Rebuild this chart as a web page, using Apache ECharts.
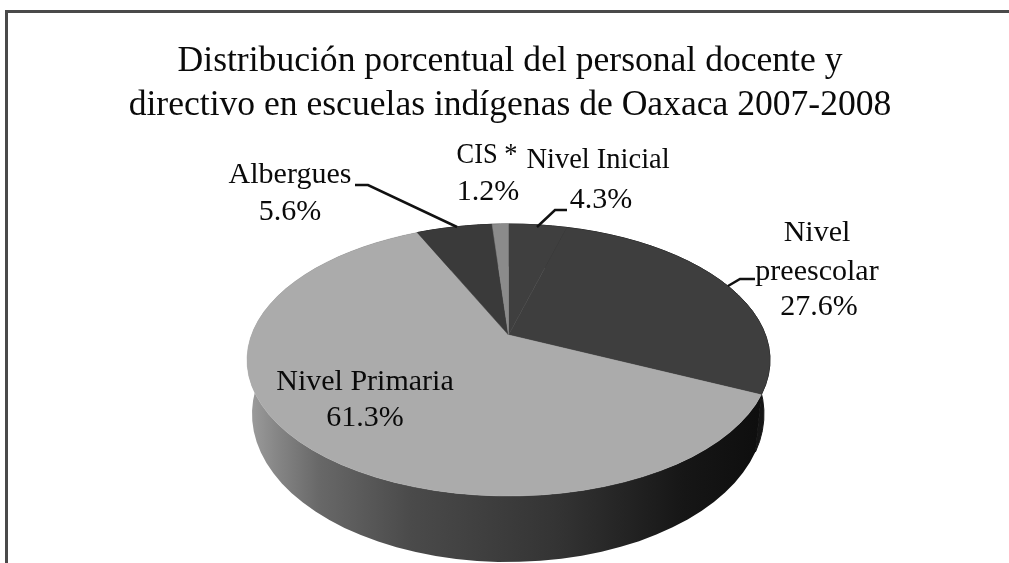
<!DOCTYPE html>
<html>
<head>
<meta charset="utf-8">
<style>html,body{margin:0;padding:0;background:#fff}#c{width:1009px;height:563px}</style>
<script src="https://cdn.jsdelivr.net/npm/echarts@6/dist/echarts.min.js"></script>
</head>
<body>
<div id="c"></div>
<script>
// --- data ---
var categories = ['Nivel Inicial', 'Nivel preescolar', 'Nivel Primaria', 'Albergues', 'CIS *'];
var values = [4.3, 27.6, 61.3, 5.6, 1.2];
var titleLines = ['Distribución porcentual del personal docente y', 'directivo en escuelas indígenas de Oaxaca 2007-2008'];
// --- styling ---
var faceColors = ['#3f3f3f', '#3e3e3e', '#ababab', '#3a3a3a', '#8b8b8b'];
var sideStops = [
  [[0, '#222222'], [1, '#222222']],
  [[0, '#0e0e0e'], [1, '#161616']],
  [[0, '#9e9e9e'], [0.06, '#858585'], [0.14, '#686868'], [0.32, '#4a4a4a'], [0.6, '#343434'], [0.85, '#161616'], [1, '#0e0e0e']],
  [[0, '#222222'], [1, '#222222']],
  [[0, '#333333'], [1, '#333333']]
];
// perspective geometry of the disc
var tilt = 0.184;
var topDisc = {cx: 508.5, cy: 360, rx: 261.5, ry: 136};
var lowDisc = {cx: 508, cy: 414, rx: 256, ry: 148};
var arcSteps = 90;
// label layout
var labelLayout = [
  {x: 598, y: 160, sx: 0.95, lines: ['Nivel Inicial'], pct: {x: 601, y: 200}, line: [[537, 227], [555, 210], [567, 210]]},
  {x: 817, y: 233, sx: 1, lines: ['Nivel', 'preescolar'], pct: {x: 819, y: 307}, line: [[728, 286], [740, 279], [755, 279]]},
  {x: 365, y: 382, sx: 1, lines: ['Nivel Primaria'], pct: {x: 365, y: 418}, line: null},
  {x: 290, y: 175, sx: 1, lines: ['Albergues'], pct: {x: 290, y: 212}, line: [[355, 185], [368, 185], [457, 227]]},
  {x: 487, y: 155, sx: 0.88, lines: ['CIS *'], pct: {x: 488, y: 192}, line: null}
];

var total = values.reduce(function (a, b) { return a + b; }, 0);
var starts = [];
values.reduce(function (acc, v, i) { starts[i] = acc; return acc + v; }, 0);
var rows = values.map(function (v, i) { return [v, starts[i], i]; });

// image of a point on the unit circle under the pie's perspective
function rim(d, frac) {
  var th = frac * 2 * Math.PI, u = Math.sin(th), v = Math.cos(th);
  var w = 1 + tilt * v;
  return [
    d.cx + d.rx * Math.sqrt(1 - tilt * tilt) * u / w,
    d.cy - (d.ry * v + tilt * d.ry) / w
  ];
}
function apex(d) { return [d.cx, d.cy - tilt * d.ry]; }
function arc(d, a, b) {
  var n = Math.max(2, Math.ceil((b - a) * arcSteps)), pts = [];
  for (var k = 0; k <= n; k++) pts.push(rim(d, a + (b - a) * k / n));
  return pts;
}

function renderSide(params, api) {
  var v = api.value(0), s = api.value(1), i = api.value(2);
  var a = s / total, b = (s + v) / total;
  var pts = arc(topDisc, a, b).concat(arc(lowDisc, a, b).reverse());
  var stops = sideStops[i].map(function (p) { return {offset: p[0], color: p[1]}; });
  var fill = new echarts.graphic.LinearGradient(0, 0, 1, 0, stops);
  return {type: 'polygon', shape: {points: pts}, style: {fill: fill, stroke: sideStops[i][sideStops[i].length - 1][1], lineWidth: i === 2 ? 0 : 1}, silent: true};
}
function renderFace(params, api) {
  var v = api.value(0), s = api.value(1), i = api.value(2);
  var pts = [apex(topDisc)].concat(arc(topDisc, s / total, (s + v) / total));
  return {type: 'polygon', shape: {points: pts}, style: {fill: faceColors[i], stroke: faceColors[i], lineWidth: 0.5}, silent: true};
}

var labelFont = '30px "Liberation Serif"';
var graphics = [
  {type: 'polyline', shape: {points: [[6.5, 563], [6.5, 11.5], [1009, 11.5]]}, style: {stroke: '#4a4a4a', lineWidth: 3, fill: null}, z: 1}
];
labelLayout.forEach(function (L, i) {
  var lh = 39;
  L.lines.forEach(function (t, k) {
    graphics.push({type: 'text', x: L.x, y: L.y + k * lh, scaleX: L.sx, z: 20, style: {text: t, fill: '#0a0a0a', font: labelFont, align: 'center', verticalAlign: 'middle'}});
  });
  graphics.push({type: 'text', x: L.pct.x, y: L.pct.y, z: 20, style: {text: values[i].toFixed(1) + '%', fill: '#0a0a0a', font: labelFont, align: 'center', verticalAlign: 'middle'}});
  if (L.line) graphics.push({type: 'polyline', z: 20, shape: {points: L.line}, style: {stroke: '#111', lineWidth: 2.5, fill: null}});
});

var chart = echarts.init(document.getElementById('c'), null, {renderer: 'canvas'});
chart.setOption({
  animation: false,
  backgroundColor: '#fff',
  title: {
    text: titleLines.join('\n'),
    left: 510, top: 35, textAlign: 'center',
    textStyle: {fontFamily: 'Liberation Serif', fontSize: 35.6, fontWeight: 'normal', color: '#0a0a0a', lineHeight: 44}
  },
  graphic: graphics,
  series: [
    {type: 'custom', coordinateSystem: 'none', data: rows, renderItem: renderSide, z: 2},
    {type: 'custom', coordinateSystem: 'none', data: rows, renderItem: renderFace, z: 3}
  ]
});
chart.setOption({title: {left: 505}});
</script>
</body>
</html>
